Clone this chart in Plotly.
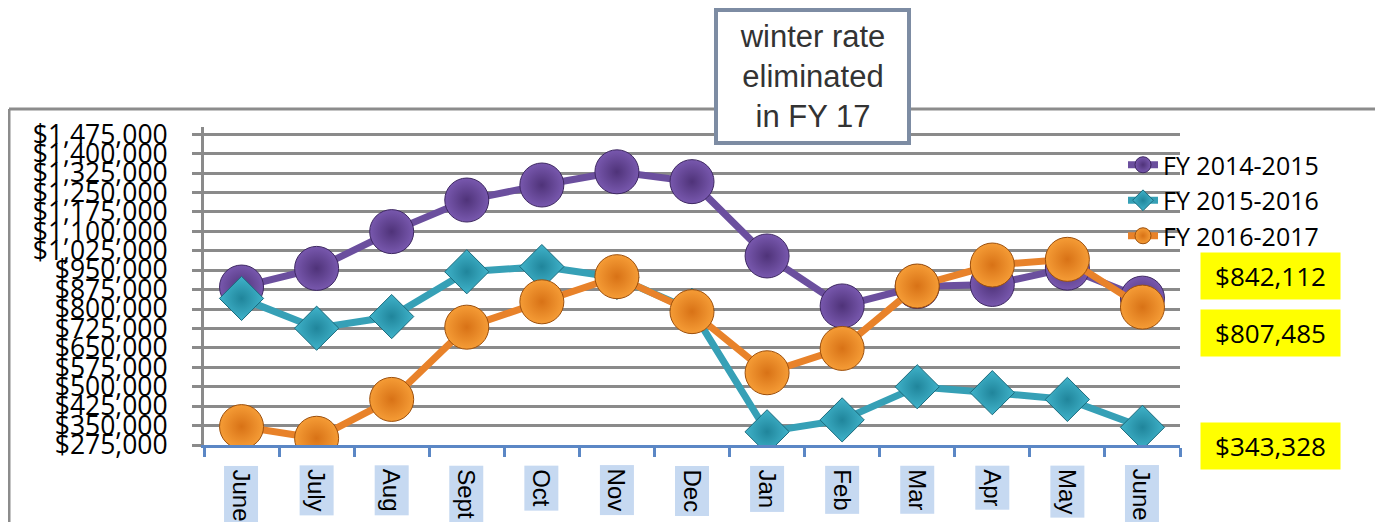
import plotly.graph_objects as go

months = ["June", "July", "Aug", "Sept", "Oct", "Nov", "Dec", "Jan", "Feb", "Mar", "Apr", "May", "June "]
fy1415 = [885000, 957000, 1099000, 1221000, 1279000, 1330000, 1292000, 1005000, 812000, 887000, 895000, 958000, 842112]
fy1516 = [841000, 726000, 771000, 944000, 964000, 922000, 795000, 326000, 372000, 500000, 477000, 451000, 343328]
fy1617 = [346000, 301000, 451000, 730000, 828000, 925000, 790000, 554000, 648000, 889000, 970000, 992000, 807485]
series_names = ["FY 2014-2015", "FY 2015-2016", "FY 2016-2017"]
callout_values = ["$842,112", "$807,485", "$343,328"]
note_text = "winter rate<br>eliminated<br>in FY 17"

OFF = 8  # page body margin
W, H = 1383 - OFF, 522 - OFF
PL_L, PL_R, PL_T, PL_B = 204 - OFF, 1180 - OFF, 127 - OFF, 445 - OFF
PW, PH = PL_R - PL_L, PL_B - PL_T


def px_x(x):
    # x given in page pixels
    return (x - OFF - PL_L) / PW


def px_y(y):
    return (PL_B - (y - OFF)) / PH


fig = go.Figure()

styles = [
    dict(line="#6b4f9e", c="#7858ae", g="#4f3379", lc="#3d2761", sym="circle", size=44),
    dict(line="#36a0b6", c="#40b3ca", g="#20859b", lc="#1a6a7c", sym="diamond", size=34),
    dict(line="#e8822a", c="#f59c36", g="#d87216", lc="#9c4f0c", sym="circle", size=44),
]
for name, vals, st in zip(series_names, [fy1415, fy1516, fy1617], styles):
    fig.add_trace(go.Scatter(
        x=months, y=vals, name=name, mode="lines+markers",
        line=dict(color=st["line"], width=7),
        marker=dict(symbol=st["sym"], size=st["size"], color=st["c"],
                    gradient=dict(type="radial", color=st["g"]),
                    line=dict(color=st["lc"], width=1)),
    ))

ann = []
# rotated month labels with light-blue background
for m in months:
    ann.append(dict(x=m, xref="x", y=px_y(465), yref="paper", text=m.strip(),
                    showarrow=False, textangle=90, xanchor="center", yanchor="top",
                    bgcolor="#c6d9f1", borderpad=3,
                    font=dict(family="Liberation Sans", size=24, color="black")))

# yellow callouts
for txt, cy in zip(callout_values, [276, 333, 446]):
    ann.append(dict(x=px_x(1270), xref="paper", y=px_y(cy), yref="paper", text=txt,
                    showarrow=False, xanchor="center", yanchor="middle",
                    bgcolor="#ffff00", width=133, height=40, borderpad=3,
                    font=dict(family="Open Sans", size=26, color="black")))

# note box
ann.append(dict(x=px_x(812), xref="paper", y=px_y(8), yref="paper", text=note_text,
                showarrow=False, xanchor="center", yanchor="top",
                bgcolor="white", bordercolor="#7d8ca3", borderwidth=4, borderpad=0,
                width=189, height=129,
                font=dict(family="Liberation Sans", size=31, color="#333333")))

shapes = [
    dict(type="line", xref="paper", yref="paper", x0=px_x(9), x1=px_x(1400),
         y0=px_y(109), y1=px_y(109), line=dict(color="#8c8c8c", width=3), layer="below"),
    dict(type="line", xref="paper", yref="paper", x0=px_x(9), x1=px_x(9),
         y0=px_y(109), y1=px_y(540), line=dict(color="#8c8c8c", width=3), layer="below"),
]

fig.update_layout(
    width=W, height=H,
    margin=dict(l=PL_L, r=W - PL_R, t=PL_T, b=H - PL_B, autoexpand=False),
    paper_bgcolor="white", plot_bgcolor="white",
    showlegend=True,
    legend=dict(x=px_x(1123), y=px_y(142), xanchor="left", yanchor="top",
                bgcolor="rgba(0,0,0,0)", tracegroupgap=0,
                font=dict(family="Open Sans", size=25, color="black")),
    annotations=ann, shapes=shapes,
    xaxis=dict(type="category", range=[-0.5, 12.5], showticklabels=False,
               showgrid=False, showline=True, linecolor="#5b87c5", linewidth=3,
               ticks="outside", tickson="boundaries", ticklen=9, tickwidth=3,
               tickcolor="#5b87c5", zeroline=False),
    yaxis=dict(range=[275000, 1503000], tick0=275000, dtick=75000,
               tickformat="$,.0f", showgrid=True, gridcolor="#8a8a8a", gridwidth=3,
               showline=True, linecolor="#8a8a8a", linewidth=3,
               ticks="outside", ticklen=9, tickwidth=3, tickcolor="#8a8a8a",
               ticklabelstandoff=19, zeroline=False,
               tickfont=dict(family="Open Sans", size=26.5, color="black")),
)

fig.write_html("out.html")
